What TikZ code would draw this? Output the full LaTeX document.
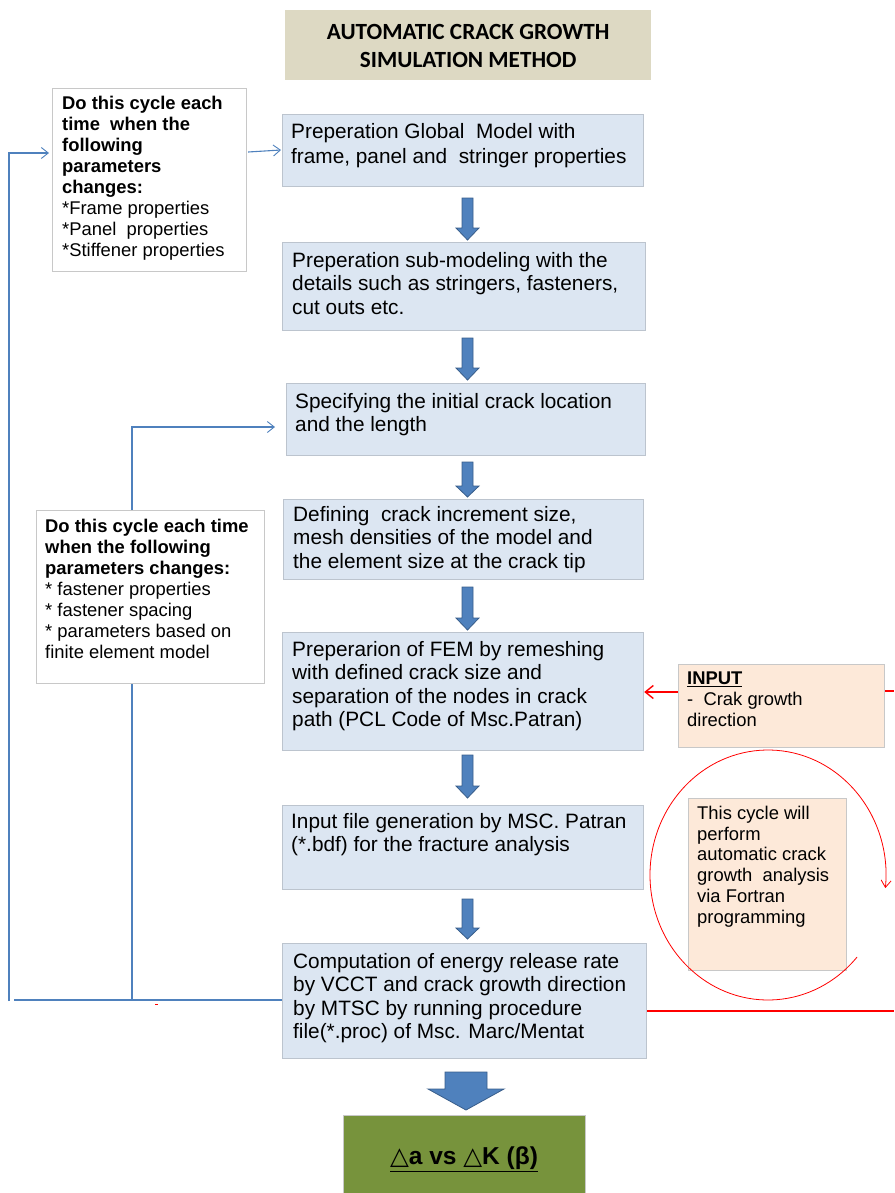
\documentclass[tikz,border=0pt]{standalone}
\usepackage{fontspec}
\setmainfont{Liberation Sans}
\newfontfamily\titlefont{Carlito}
\newfontfamily\symfont{DejaVu Sans}
\usetikzlibrary{arrows.meta,calc}
\definecolor{boxblue}{HTML}{DCE6F2}
\definecolor{boxedge}{HTML}{BCC4CE}
\definecolor{grayedge}{HTML}{C8C8C8}
\definecolor{titlefill}{HTML}{DDD9C3}
\definecolor{peach}{HTML}{FDE9D9}
\definecolor{olive}{HTML}{77933C}
\definecolor{lineblue}{HTML}{4F81BD}
\definecolor{arrowedge}{HTML}{385D8A}
\newcommand\blkarrow[6]{\draw[blk] (#1-#5,#2) -- (#1+#5,#2) -- (#1+#5,#3) -- (#1+#6,#3) -- (#1,#4) -- (#1-#6,#3) -- (#1-#5,#3) -- cycle;}
\begin{document}
\begin{tikzpicture}[x=1pt,y=-1pt,
  stepbox/.style={draw=boxedge, fill=boxblue, line width=1.2pt, inner sep=0pt, anchor=north west},
  notebox/.style={draw=grayedge, fill=white, line width=1.2pt, inner sep=0pt, anchor=north west},
  peachbox/.style={draw=grayedge, fill=peach, line width=1.2pt, inner sep=0pt, anchor=north west},
  boxtxt/.style={anchor=north west, inner sep=0pt, align=left, font=\fontsize{20.8}{23.5}\selectfont},
  notetxt/.style={anchor=north west, inner sep=0pt, align=left, font=\fontsize{18.4}{21}\selectfont},
  blk/.style={fill=lineblue, draw=arrowedge, line width=0.8pt, line join=miter},
  bluethick/.style={draw=lineblue, line width=2pt},
  bluethin/.style={draw=lineblue, line width=1.1pt},
  openarrow/.style={-{Straight Barb[length=7pt,width=11pt,line width=0.9pt]}},
  redline/.style={draw=red, line width=1.6pt},
]
\useasboundingbox (0,0) rectangle (894,1193);

% ---------- connectors behind boxes ----------
\coordinate (outerB) at (14,1000);
\coordinate (outerC) at (9,1001);
\coordinate (outerD) at (9,153);
\coordinate (innerA) at (132,1000);
\coordinate (innerB) at (132,427);

% ---------- boxes ----------
\node[draw=none, fill=titlefill, minimum width=366pt, minimum height=70pt, inner sep=0pt, anchor=north west] (title) at (285,10) {};
\node[font=\titlefont\bfseries\fontsize{23.2}{28}\selectfont, align=center, inner sep=0pt] (titletxt) at ($(title.center)+(0,1)$) {AUTOMATIC CRACK GROWTH\\SIMULATION METHOD};

\node[stepbox, minimum width=361pt, minimum height=72pt] (b1) at (282,114) {};
\node[stepbox, minimum width=363pt, minimum height=88pt] (b2) at (282,242) {};
\node[stepbox, minimum width=359pt, minimum height=72pt] (b3) at (286,383) {};
\node[stepbox, minimum width=360pt, minimum height=80pt] (b4) at (283,499) {};
\node[stepbox, minimum width=361pt, minimum height=118pt] (b5) at (282,632) {};
\node[stepbox, minimum width=361pt, minimum height=84pt] (b6) at (282,805) {};
\node[stepbox, minimum width=364pt, minimum height=115pt] (b7) at (282,943) {};

% loops
\draw[bluethick] (b7.west |- outerB) -- (outerB);
\draw[bluethin, openarrow] (outerC) -- (outerD) -- (49,153) coordinate (n1in);
\draw[bluethick, openarrow] (innerA) -- (innerB) -- (275,427) coordinate (b3in);

\node[notebox, minimum width=194pt, minimum height=183pt] (n1) at (52,88) {};
\node[notebox, minimum width=228pt, minimum height=173pt] (n2) at (36,510) {};
\node[peachbox, minimum width=206pt, minimum height=83pt] (inp) at (678,664) {};
\node[peachbox, minimum width=158pt, minimum height=172pt] (cyc) at (688,798) {};
\node[draw=grayedge, fill=olive, line width=1.2pt, minimum width=242pt, minimum height=82pt, inner sep=0pt, anchor=north west] (res) at (343,1115) {};

% ---------- texts ----------
\node[boxtxt, font=\fontsize{20.8}{25.5}\selectfont] (t1) at (291,123) {Preperation Global\ \ Model with\\frame, panel and\ \ stringer properties};
\node[boxtxt] (t2) at (292,252) {Preperation sub-modeling with the\\details such as stringers, fasteners,\\cut outs etc.};
\node[boxtxt] (t3) at (295,393) {Specifying the initial crack location\\and the length};
\node[boxtxt] (t4) at (293,506) {Defining\ \ crack increment size,\\mesh densities of the model and\\the element size at the crack tip};
\node[boxtxt] (t5) at (292,641) {Preperarion of FEM by remeshing\\with defined crack size and\\separation of the nodes in crack\\path (PCL Code of Msc.Patran)};
\node[boxtxt] (t6) at (291,813) {Input file generation by MSC. Patran\\(*.bdf) for the fracture analysis};
\node[boxtxt] (t7) at (293,953) {Computation of energy release rate\\by VCCT and crack growth direction\\by MTSC by running procedure\\file(*.proc) of Msc. Marc/Mentat};

\node[notetxt] (nt1) at (62,96) {\bfseries Do this cycle each\\\bfseries time\ \ when the\\\bfseries following\\\bfseries parameters\\\bfseries changes:\\*Frame properties\\*Panel\ \ properties\\*Stiffener properties};
\node[notetxt] (nt2) at (45,519) {\bfseries Do this cycle each time\\\bfseries when the following\\\bfseries parameters changes:\\* fastener properties\\* fastener spacing\\* parameters based on\\finite element model};
\node[notetxt] (inptxt) at (687,672) {\bfseries\underline{INPUT}\\-\ \ Crak growth\\direction};
\node[notetxt, font=\fontsize{18.4}{20.7}\selectfont] (cyctxt) at (697,806) {This cycle will\\perform\\automatic crack\\growth\ \ analysis\\via Fortran\\programming};
\node[font=\bfseries\fontsize{24.5}{28}\selectfont, inner sep=0pt] (restxt) at (464,1159) {\underline{{\symfont\mdseries △}a vs\ {\symfont\mdseries △}K (β)}};

% ---------- connectors ----------
\draw[bluethin, openarrow] ($(n1.north east)+(1,64)$) -- ($(b1.north west)+(-1,36)$);

\draw[redline, -{Straight Barb[length=8pt,width=13pt,line width=1.4pt]}] (inp.west |- 0,692) -- (b5.east |- 0,692);
\draw[redline] (inp.east |- 0,691) -- (894,691);
\draw[redline, line width=2pt] (b7.east |- 0,1011) -- (894,1011);
\draw[red, line width=1pt] (155,1004) -- (158,1004);
\draw[red, line width=0.8pt, -{Straight Barb[length=7pt,width=10pt,line width=0.8pt]}]
  ($(768,875)+({118*cos(-41)},{-125*sin(-41)})$) coordinate (arcstart)
  arc[start angle=41, end angle=366, x radius=118, y radius=125];

% ---------- block arrows ----------
\blkarrow{467.5}{198}{228}{240}{5.5}{11.5}
\blkarrow{467.5}{338}{368}{380}{5.5}{11.5}
\blkarrow{467.5}{462}{486}{497}{5.5}{11.5}
\blkarrow{467.5}{587}{618}{630}{5.5}{11.5}
\blkarrow{467.5}{755}{786}{798}{5.5}{11.5}
\blkarrow{467.5}{899}{928}{939}{5.5}{11.5}
\blkarrow{466}{1072}{1089}{1110}{21}{38}
\end{tikzpicture}
\end{document}
